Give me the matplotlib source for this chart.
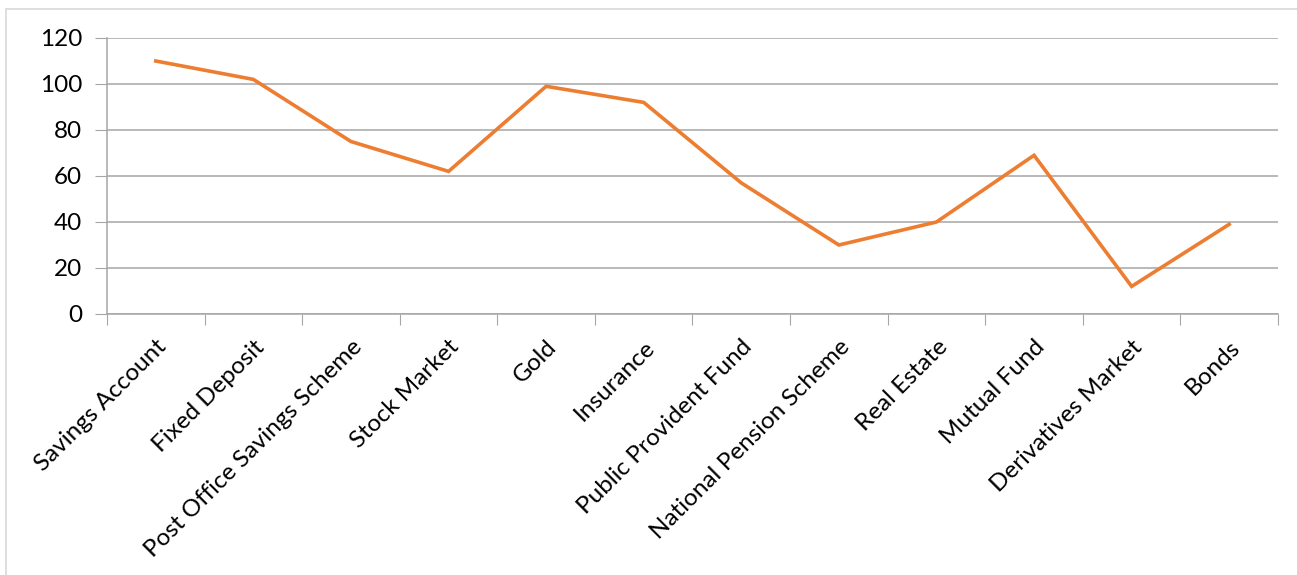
import matplotlib.pyplot as plt
from matplotlib.patches import Rectangle

# data
categories = ['Savings Account', 'Fixed Deposit', 'Post Office Savings Scheme',
              'Stock Market', 'Gold', 'Insurance', 'Public Provident Fund',
              'National Pension Scheme', 'Real Estate', 'Mutual Fund',
              'Derivatives Market', 'Bonds']
values = [110, 102, 75, 62, 99, 92, 57, 30, 40, 69, 12, 39]
y_ticks = [0, 20, 40, 60, 80, 100, 120]

plt.rcParams['font.family'] = ['Lato', 'DejaVu Sans']

W, H = 1297, 575
fig = plt.figure(figsize=(W / 100, H / 100), dpi=100)
ax = fig.add_axes([107 / W, 1 - 314 / H, (1278 - 107) / W, (314 - 38) / H])

# outer chart border
fig.patches.append(Rectangle((6 / W, -0.01), 1.02, 1 - 9 / H + 0.01,
                             transform=fig.transFigure, fill=False,
                             edgecolor='#d9d9d9', linewidth=1.2))

x = list(range(len(categories)))
ax.plot(x, values, color='#ED7D31', linewidth=2.6, solid_joinstyle='miter')

ax.set_xlim(-0.5, len(categories) - 0.5)
ax.set_ylim(0, 120)
ax.set_yticks(y_ticks)
ax.set_yticklabels([str(v) for v in y_ticks], fontsize=17.5)
ax.grid(axis='y', color='#a6a6a6', linewidth=1.1)
ax.set_axisbelow(True)

# category ticks between categories, labels at the centres
ax.set_xticks([i - 0.5 for i in range(len(categories) + 1)])
ax.set_xticklabels([])
ax.set_xticks(x, minor=True)
ax.set_xticklabels(categories, minor=True, rotation=45, ha='right',
                   va='top', rotation_mode='anchor', fontsize=17.5)
ax.tick_params(axis='x', which='minor', length=0, pad=16)
ax.tick_params(axis='x', which='major', length=8, color='#a6a6a6')
ax.tick_params(axis='y', length=9, color='#a6a6a6', pad=9)

for s in ['top', 'right']:
    ax.spines[s].set_visible(False)
for s in ['left', 'bottom']:
    ax.spines[s].set_color('#a6a6a6')
    ax.spines[s].set_linewidth(1.1)

fig.savefig('out.png', dpi=100)
